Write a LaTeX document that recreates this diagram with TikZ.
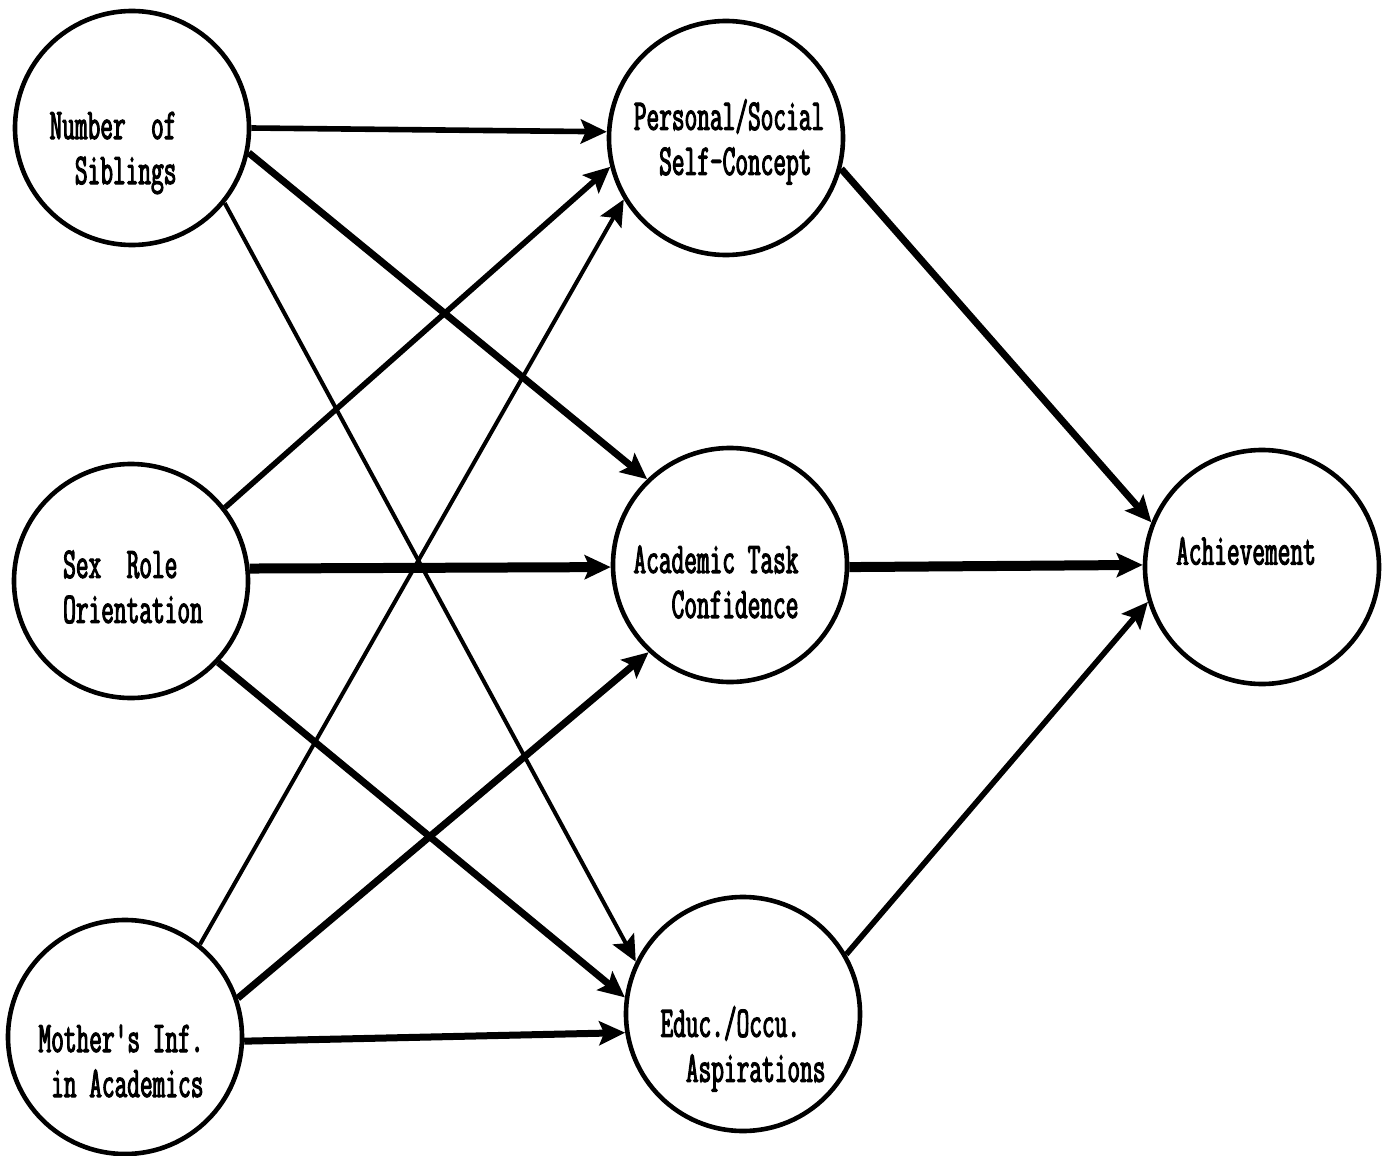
\documentclass[tikz,border=0pt]{standalone}
\usepackage{fontspec}
\newfontfamily\maquina[FakeStretch=0.56,FakeBold=2.4]{Latin Modern Mono}
\usetikzlibrary{arrows.meta}
\tikzset{
  var/.style={circle,draw=black,line width=2.3pt,minimum size=117pt,inner sep=0pt},
  rotulo/.style={font=\maquina\fontsize{22}{22.5}\selectfont,align=left,inner sep=0pt},
  flecha/.style={-{Stealth[length=13pt,width=12pt,inset=2.5pt]}},
  fina/.style={flecha,line width=2pt},
  media/.style={flecha,line width=2.8pt},
  gruesa/.style={flecha,line width=3.5pt},
  muygruesa/.style={flecha,line width=5pt}
}
\begin{document}
\begin{tikzpicture}[x=0.5pt,y=-0.5pt]
\fill[white] (0,0) rectangle (1382,1156);
\useasboundingbox (0,0) rectangle (1382,1156);
% variables
\node[var] (sib) at (132,128) {};
\node[var] (sex) at (131,581) {};
\node[var] (mot) at (125,1037) {};
\node[var] (per) at (726,138) {};
\node[var] (aca) at (730,565) {};
\node[var] (edu) at (743,1014) {};
\node[var] (ach) at (1262,567) {};
% rotulos
\node[rotulo] (sibt) at (113,153) {Number~~of\\\hphantom{00}Siblings};
\node[rotulo] (sext) at (133,587) {Sex~~Role\\Orientation};
\node[rotulo] (mott) at (121,1061) {Mother's Inf.\\\hphantom{0}in Academics};
\node[rotulo] (pert) at (729,142) {Personal/Social\\\hphantom{00}Self-Concept};
\node[rotulo] (acat) at (716,582) {Academic Task\\\hphantom{000}Confidence};
\node[rotulo] (edut) at (743,1049) {Educ./Occu.\\\hphantom{00}Aspirations};
\node[rotulo] (acht) at (1246,551) {Achievement};
% trayectorias
\draw[media] (sib.0) -- (per.177);
\draw[gruesa] (sib.-12) -- (aca.134);
\draw[fina] (sib.-39) -- (edu.154);
\draw[media] (sex.38) -- (per.194);
\draw[muygruesa] (sex.6) -- (aca.181);
\draw[gruesa] (sex.-43) -- (edu.172);
\draw[fina] (mot.51) -- (per.211);
\draw[gruesa] (mot.19.5) -- (aca.227);
\draw[gruesa] (mot.-2.5) -- (edu.189);
\draw[gruesa] (per.-15.5) -- (ach.158);
\draw[muygruesa] (aca.-1) -- (ach.179);
\draw[media] (edu.30.5) -- (ach.197);
\end{tikzpicture}
\end{document}
